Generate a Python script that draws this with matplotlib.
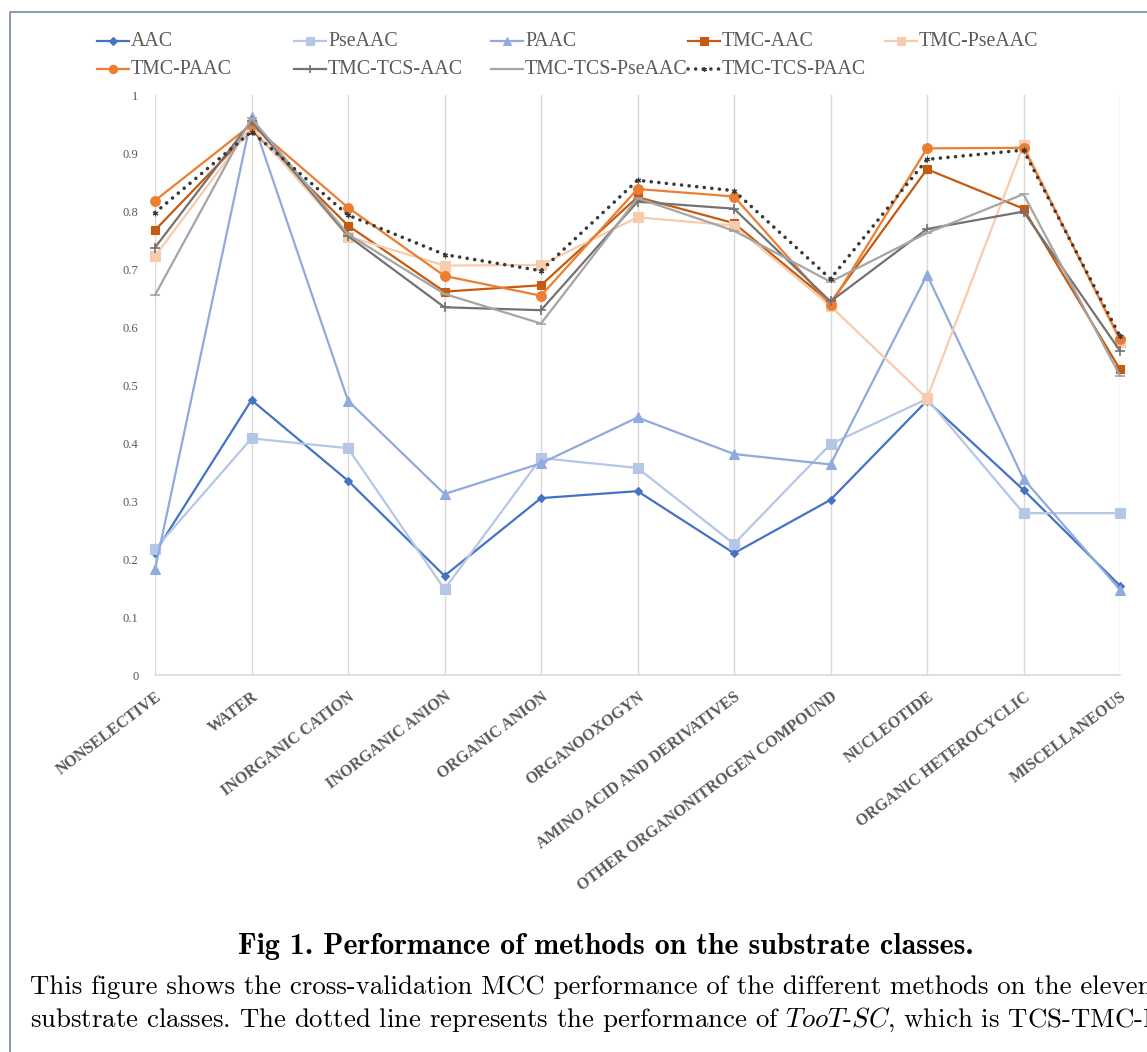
import numpy as np
import matplotlib.pyplot as plt
from matplotlib.lines import Line2D

plt.rcParams['mathtext.fontset'] = 'cm'

categories = ["NONSELECTIVE", "WATER", "INORGANIC CATION", "INORGANIC ANION",
              "ORGANIC ANION", "ORGANOOXOGYN", "AMINO ACID AND DERIVATIVES",
              "OTHER ORGANONITROGEN COMPOUND", "NUCLEOTIDE",
              "ORGANIC HETEROCYCLIC", "MISCELLANEOUS"]

aac = [0.211, 0.474, 0.335, 0.171, 0.305, 0.317, 0.210, 0.302, 0.473, 0.319, 0.154]
pseaac = [0.217, 0.408, 0.391, 0.148, 0.374, 0.357, 0.226, 0.398, 0.476, 0.279, 0.279]
paac = [0.182, 0.962, 0.473, 0.312, 0.365, 0.444, 0.381, 0.363, 0.690, 0.338, 0.147]
tmc_aac = [0.767, 0.940, 0.775, 0.661, 0.672, 0.824, 0.779, 0.642, 0.872, 0.804, 0.527]
tmc_pseaac = [0.722, 0.945, 0.756, 0.706, 0.707, 0.789, 0.775, 0.636, 0.477, 0.914, 0.575]
tmc_paac = [0.818, 0.949, 0.806, 0.688, 0.654, 0.838, 0.825, 0.638, 0.908, 0.909, 0.579]
tmc_tcs_aac = [0.737, 0.955, 0.757, 0.634, 0.629, 0.816, 0.804, 0.644, 0.769, 0.799, 0.559]
tmc_tcs_pseaac = [0.655, 0.960, 0.760, 0.657, 0.606, 0.822, 0.766, 0.678, 0.762, 0.829, 0.516]
tmc_tcs_paac = [0.797, 0.937, 0.793, 0.725, 0.697, 0.853, 0.835, 0.683, 0.889, 0.905, 0.584]

names = ["AAC", "PseAAC", "PAAC", "TMC-AAC", "TMC-PseAAC", "TMC-PAAC",
         "TMC-TCS-AAC", "TMC-TCS-PseAAC", "TMC-TCS-PAAC"]
values = [aac, pseaac, paac, tmc_aac, tmc_pseaac, tmc_paac,
          tmc_tcs_aac, tmc_tcs_pseaac, tmc_tcs_paac]

# colour, marker, marker size, linestyle
styles = [
    ("#4472C4", "D", 4.5, "-"),
    ("#B4C7E7", "s", 6.5, "-"),
    ("#8FAADC", "^", 6.5, "-"),
    ("#C55A11", "s", 6, "-"),
    ("#F8CBAD", "s", 6.5, "-"),
    ("#ED7D31", "o", 7, "-"),
    ("#767171", "+", 7, "-"),
    ("#A5A5A5", "_", 7, "-"),
    ("#3A3A3A", (6, 2, 0), 4, (0, (0.01, 2.1))),
]

W, H = 1147, 1052
fig = plt.figure(figsize=(W / 100, H / 100), dpi=100)

ax = fig.add_axes([155 / W, 1 - 675 / H, (1120 - 155) / W, (675 - 95) / H])
x = np.arange(len(categories))

for name, vals, (c, m, ms, ls) in zip(names, values, styles):
    lw = 2.6 if ls != "-" else 1.6
    ax.plot(x, vals, color=c, marker=m, markersize=ms, linestyle=ls, linewidth=lw,
            markeredgewidth=1.2 if m in ("+", "_") else 0.8,
            dash_capstyle="round", clip_on=False, zorder=3)

ax.set_xlim(0, len(categories) - 1)
ax.set_ylim(0, 1)
ax.set_yticks(np.arange(0, 1.01, 0.1))
ax.set_yticklabels(["0"] + [f"{v:.1f}" for v in np.arange(0.1, 0.95, 0.1)] + ["1"],
                   fontfamily="Liberation Serif", fontsize=9, color="#595959")
ax.set_xticks(x)
ax.set_xticklabels(categories, rotation=37, ha="right", rotation_mode="anchor",
                   fontfamily="Liberation Serif", fontweight="bold",
                   fontsize=11.5, color="#595959")
ax.tick_params(axis="both", length=0)
ax.tick_params(axis="y", pad=12)
ax.tick_params(axis="x", pad=10)
ax.grid(axis="x", color="#D9D9D9", linewidth=1)
for s in ["top", "right", "left"]:
    ax.spines[s].set_visible(False)
ax.spines["bottom"].set_color("#D9D9D9")
ax.spines["bottom"].set_linewidth(1.2)

# legend drawn entry by entry in a 5-column grid
for i, (name, (c, m, ms, ls)) in enumerate(zip(names, styles)):
    row, col = divmod(i, 5)
    x0 = (97 + 197 * col) / W
    x1 = x0 + 32 / W
    yy = 1 - (41 + 28 * row) / H
    lw = 2.6 if ls != "-" else 1.6
    fig.add_artist(Line2D([x0, x1], [yy, yy], color=c, linestyle=ls, linewidth=lw,
                          dash_capstyle="round"))
    fig.add_artist(Line2D([(x0 + x1) / 2], [yy], color=c, marker=m,
                          markersize=ms * 0.85,
                          markeredgewidth=1.2 if m in ("+", "_") else 0.8))
    fig.text(x1 + 2 / W, yy, name, fontfamily="Liberation Serif", fontsize=14.3,
             color="#595959", va="center", ha="left")

# frame around the figure panel
fig.add_artist(Line2D([10 / W, 10 / W, 1.0], [0.0, 1 - 12 / H, 1 - 12 / H],
                      color="#7189A5", linewidth=1.2))

fig.text(606 / W, 1 - 947 / H, "Fig 1. Performance of methods on the substrate classes.",
         fontfamily="cmb10", fontsize=21.5, ha="center", va="center")
fig.text(30 / W, 1 - 987 / H,
         "This figure shows the cross-validation MCC performance of the different methods on the eleven",
         fontfamily="cmr10", fontsize=19.3, ha="left", va="center")
fig.text(30 / W, 1 - 1020 / H,
         r"substrate classes. The dotted line represents the performance of $TooT$-$SC$, which is TCS-TMC-PAAC.",
         fontfamily="cmr10", fontsize=19.3, ha="left", va="center")

fig.savefig("out.png", dpi=100)
